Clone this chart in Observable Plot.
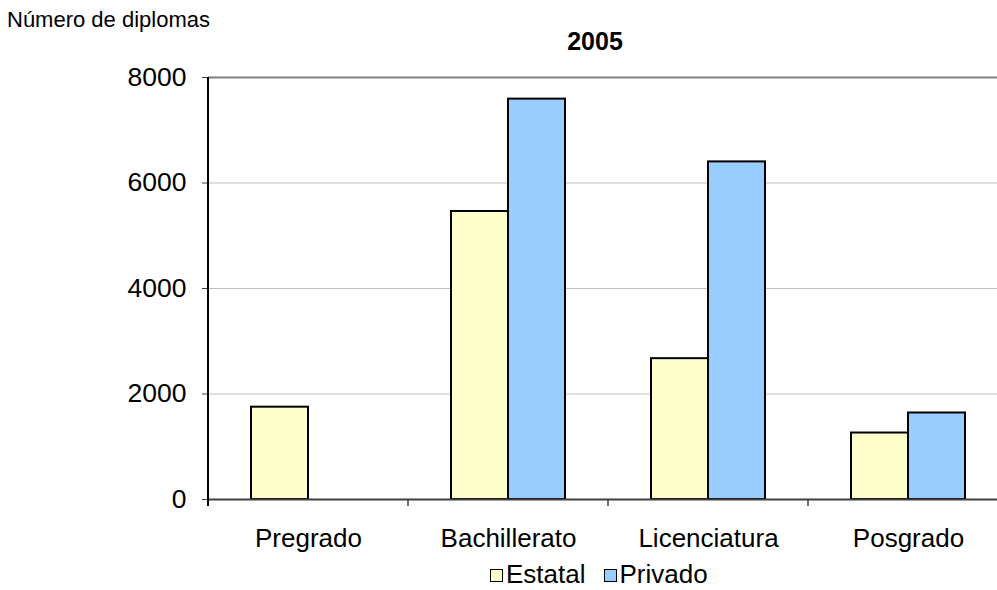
<!DOCTYPE html>
<html>
<head>
<meta charset="utf-8">
<script src="https://cdn.jsdelivr.net/npm/d3@7"></script>
<script src="https://cdn.jsdelivr.net/npm/@observablehq/plot@0.6"></script>
<style>
  html, body { margin: 0; padding: 0; background: white; overflow: hidden; }
  #wrap { position: relative; width: 997px; height: 590px; overflow: hidden; font-family: "Liberation Sans", Arial, sans-serif; color: #000; }
  #ylabel { position: absolute; left: 7px; top: 9px; font-size: 22px; line-height: 1; white-space: nowrap; }
  #title { position: absolute; left: 545px; width: 100px; text-align: center; top: 29px; font-size: 25px; font-weight: bold; line-height: 1; }
  #legend { position: absolute; left: 490px; top: 561px; font-size: 26px; line-height: 1; display: flex; align-items: center; white-space: nowrap; }
  #legend .sw { display: inline-block; width: 11px; height: 11px; border: 1.5px solid #000; margin-right: 3px; margin-top: 2px; }
  #legend .item { display: flex; align-items: center; margin-right: 18px; }
  #chart { position: absolute; left: 0; top: 0; }
</style>
</head>
<body>
<div id="wrap">
  <div id="chart"></div>
  <div id="ylabel">Número de diplomas</div>
  <div id="title">2005</div>
  <div id="legend"></div>
</div>
<script>
// ---- data ----
const categories = ["Pregrado", "Bachillerato", "Licenciatura", "Posgrado"];
const series = ["Estatal", "Privado"];
const estatal = [1750, 5460, 2670, 1260];
const privado = [null, 7590, 6400, 1640];
const yTicks = [0, 2000, 4000, 6000, 8000];
const gridValues = [2000, 4000, 6000];
const seriesColors = ["#FFFFCC", "#99CCFF"];
const titleText = "2005";
const yLabelText = "Número de diplomas";

// table for the library
const rows = [];
categories.forEach((c, i) => {
  if (estatal[i] != null) rows.push({cat: c, serie: series[0], value: estatal[i]});
  if (privado[i] != null) rows.push({cat: c, serie: series[1], value: privado[i]});
});

document.getElementById("title").textContent = titleText;
document.getElementById("ylabel").textContent = yLabelText;

const chart = Plot.plot({
  width: 1010,
  height: 590,
  marginTop: 77,
  marginBottom: 91,
  marginLeft: 207,
  marginRight: 2,
  style: {fontFamily: "'Liberation Sans', Arial, sans-serif", maxWidth: "none", overflow: "visible", background: "white"},
  fx: {domain: categories, padding: 0},
  x: {domain: series, paddingInner: 0, paddingOuter: 0.74, axis: null},
  y: {domain: [0, 8000]},
  color: {domain: series, range: seriesColors},
  marks: [
    Plot.ruleY(gridValues, {stroke: "#c0c0c0", strokeWidth: 1}),
    Plot.ruleY([8000], {stroke: "#808080", strokeWidth: 2}),
    Plot.barY(rows, {fx: "cat", x: "serie", y: "value", fill: "serie", stroke: "#000", strokeWidth: 2}),
    Plot.ruleY([0], {stroke: "#404040", strokeWidth: 2}),
    Plot.axisY({ticks: yTicks, tickFormat: d3.format("d"), tickSize: 6, tickPadding: 16, fontSize: 26.5, label: null, stroke: "#404040"}),
    Plot.axisFx({anchor: "bottom", tickSize: 0, tickPadding: 29, fontSize: 26, label: null})
  ]
});
document.getElementById("chart").appendChild(chart);

// axis line and category boundary ticks, placed with Plot's own scales
const fx = chart.scale("fx");
const y = chart.scale("y");
const svg = d3.select(chart);
const x0 = fx.apply(categories[0]);
svg.append("line")
  .attr("x1", x0).attr("x2", x0)
  .attr("y1", y.apply(8000)).attr("y2", y.apply(0) + 7)
  .attr("stroke", "#000").attr("stroke-width", 2);
categories.slice(1).forEach(c => {
  const xv = fx.apply(c);
  svg.append("line")
    .attr("x1", xv).attr("x2", xv)
    .attr("y1", y.apply(0)).attr("y2", y.apply(0) + 7)
    .attr("stroke", "#404040").attr("stroke-width", 1.5);
});

// legend
const legend = document.getElementById("legend");
series.forEach((s, i) => {
  const item = document.createElement("span");
  item.className = "item";
  const sw = document.createElement("span");
  sw.className = "sw";
  sw.style.background = seriesColors[i];
  const t = document.createElement("span");
  t.textContent = s;
  item.appendChild(sw);
  item.appendChild(t);
  legend.appendChild(item);
});
</script>
</body>
</html>
